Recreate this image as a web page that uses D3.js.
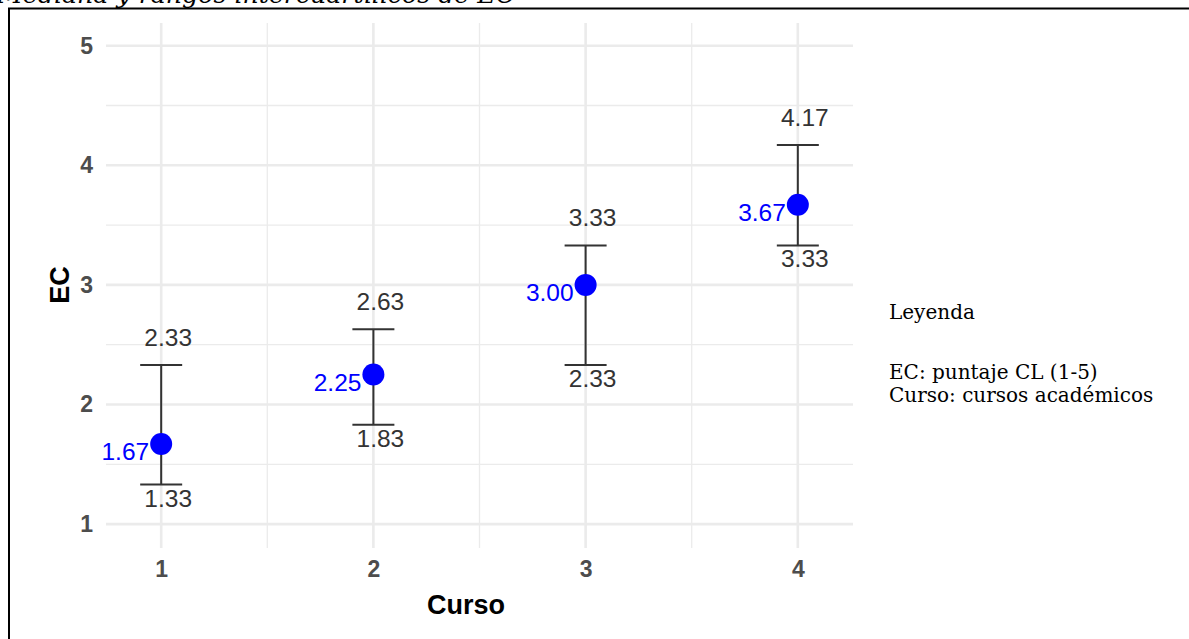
<!DOCTYPE html>
<html>
<head>
<meta charset="utf-8">
<script src="https://cdn.jsdelivr.net/npm/d3@7"></script>
<style>
  body { margin: 0; background: #fff; }
  svg { display: block; }
</style>
</head>
<body>
<svg width="1189" height="639"></svg>
<script>
var cursos = [1, 2, 3, 4];
var medianas = [1.67, 2.25, 3.00, 3.67];
var q1 = [1.33, 1.83, 2.33, 3.33];
var q3 = [2.33, 2.63, 3.33, 4.17];
var yTicks = [1, 2, 3, 4, 5];
var leyenda = ['Leyenda', '', 'EC: puntaje CL (1-5)', 'Curso: cursos académicos'];

var svg = d3.select('svg');

// recuadro del documento y titulo recortado
svg.append('text')
	.attr('x', -3)
	.attr('y', 3)
	.attr('font-family', 'DejaVu Serif')
	.attr('font-style', 'italic')
	.attr('font-size', 24)
	.attr('textLength', 518)
	.attr('lengthAdjust', 'spacingAndGlyphs')
	.attr('fill', '#000')
	.text('Mediana y rangos intercuartílicos de EC');

svg.append('path')
	.attr('d', 'M9,660 L9,8.5 L1200,8.5')
	.attr('fill', 'none')
	.attr('stroke', '#000')
	.attr('stroke-width', 2);

var x = d3.scaleLinear()
	.domain([0.74, 4.26])
	.range([106, 853]);

var y = d3.scaleLinear()
	.domain([0.8, 5.19])
	.range([548, 23]);

// recorte del panel (la etiqueta 1.67 queda cortada)
svg.append('clipPath')
	.attr('id', 'panel')
	.append('rect')
	.attr('x', 103)
	.attr('y', 0)
	.attr('width', 800)
	.attr('height', 600);

var grid = svg.append('g');

// rejilla menor
grid.selectAll('.minor-y')
	.data(d3.range(1.5, 5, 1))
	.enter().append('line')
	.attr('x1', x.range()[0]).attr('x2', x.range()[1])
	.attr('y1', function(d) { return y(d); })
	.attr('y2', function(d) { return y(d); })
	.attr('stroke', '#ebebeb')
	.attr('stroke-width', 1.3);

grid.selectAll('.minor-x')
	.data([1.5, 2.5, 3.5])
	.enter().append('line')
	.attr('y1', y.range()[0]).attr('y2', y.range()[1])
	.attr('x1', function(d) { return x(d); })
	.attr('x2', function(d) { return x(d); })
	.attr('stroke', '#ebebeb')
	.attr('stroke-width', 1.3);

// rejilla mayor
grid.selectAll('.major-y')
	.data(yTicks)
	.enter().append('line')
	.attr('x1', x.range()[0]).attr('x2', x.range()[1])
	.attr('y1', function(d) { return y(d); })
	.attr('y2', function(d) { return y(d); })
	.attr('stroke', '#ebebeb')
	.attr('stroke-width', 2.6);

grid.selectAll('.major-x')
	.data(cursos)
	.enter().append('line')
	.attr('y1', y.range()[0]).attr('y2', y.range()[1])
	.attr('x1', function(d) { return x(d); })
	.attr('x2', function(d) { return x(d); })
	.attr('stroke', '#ebebeb')
	.attr('stroke-width', 2.6);

// ejes
var yAxis = d3.axisLeft(y)
	.tickValues(yTicks)
	.tickFormat(d3.format('d'))
	.tickSize(0)
	.tickPadding(13);

var gy = svg.append('g')
	.attr('transform', 'translate(' + x.range()[0] + ',0)')
	.call(yAxis);

var xAxis = d3.axisBottom(x)
	.tickValues(cursos)
	.tickFormat(d3.format('d'))
	.tickSize(0)
	.tickPadding(13);

var gx = svg.append('g')
	.attr('transform', 'translate(0,' + y.range()[0] + ')')
	.call(xAxis);

[gx, gy].forEach(function(g) {
	g.select('.domain').remove();
	g.selectAll('text')
		.attr('font-family', 'Liberation Sans, Arial, sans-serif')
		.attr('font-weight', 'bold')
		.attr('font-size', 23)
		.attr('fill', '#4d4d4d');
});

svg.append('text')
	.attr('x', 466)
	.attr('y', 614)
	.attr('text-anchor', 'middle')
	.attr('font-family', 'Liberation Sans, Arial, sans-serif')
	.attr('font-weight', 'bold')
	.attr('font-size', 27)
	.text('Curso');

svg.append('text')
	.attr('transform', 'translate(69,' + y(3) + ') rotate(-90)')
	.attr('text-anchor', 'middle')
	.attr('font-family', 'Liberation Sans, Arial, sans-serif')
	.attr('font-weight', 'bold')
	.attr('font-size', 27)
	.text('EC');

// barras de error
var datos = cursos.map(function(c, i) {
	return { curso: c, med: medianas[i], lo: q1[i], hi: q3[i] };
});

var marcas = svg.append('g');

marcas.selectAll('.bar')
	.data(datos)
	.enter().append('line')
	.attr('x1', function(d) { return x(d.curso); })
	.attr('x2', function(d) { return x(d.curso); })
	.attr('y1', function(d) { return y(d.lo); })
	.attr('y2', function(d) { return y(d.hi); })
	.attr('stroke', '#333')
	.attr('stroke-width', 2);

['lo', 'hi'].forEach(function(k) {
	marcas.selectAll('.cap-' + k)
		.data(datos)
		.enter().append('line')
		.attr('x1', function(d) { return x(d.curso) - 21; })
		.attr('x2', function(d) { return x(d.curso) + 21; })
		.attr('y1', function(d) { return y(d[k]); })
		.attr('y2', function(d) { return y(d[k]); })
		.attr('stroke', '#333')
		.attr('stroke-width', 2);
});

marcas.selectAll('circle')
	.data(datos)
	.enter().append('circle')
	.attr('cx', function(d) { return x(d.curso); })
	.attr('cy', function(d) { return y(d.med); })
	.attr('r', 11)
	.attr('fill', '#0000ff');

var fmt = d3.format('.2f');

marcas.selectAll('.lab-hi')
	.data(datos)
	.enter().append('text')
	.attr('x', function(d) { return x(d.curso) + 7; })
	.attr('y', function(d) { return y(d.hi) - 19; })
	.attr('text-anchor', 'middle')
	.attr('font-family', 'Liberation Sans, Arial, sans-serif')
	.attr('font-size', 24.5)
	.attr('fill', '#333')
	.text(function(d) { return fmt(d.hi); });

marcas.selectAll('.lab-lo')
	.data(datos)
	.enter().append('text')
	.attr('x', function(d) { return x(d.curso) + 7; })
	.attr('y', function(d) { return y(d.lo) + 22; })
	.attr('text-anchor', 'middle')
	.attr('font-family', 'Liberation Sans, Arial, sans-serif')
	.attr('font-size', 24.5)
	.attr('fill', '#333')
	.text(function(d) { return fmt(d.lo); });

marcas.append('g')
	.attr('clip-path', 'url(#panel)')
	.selectAll('text')
	.data(datos)
	.enter().append('text')
	.attr('x', function(d) { return x(d.curso) - 12; })
	.attr('y', function(d) { return y(d.med) + 16; })
	.attr('text-anchor', 'end')
	.attr('font-family', 'Liberation Sans, Arial, sans-serif')
	.attr('font-size', 24.5)
	.attr('fill', '#0000ff')
	.text(function(d) { return fmt(d.med); });

// leyenda
svg.append('g').selectAll('text')
	.data(leyenda)
	.enter().append('text')
	.attr('x', 889)
	.attr('y', function(d, i) { return [319, 349, 379, 402][i]; })
	.attr('font-family', 'DejaVu Serif')
	.attr('font-size', 20)
	.attr('fill', '#000')
	.text(function(d) { return d; });
</script>
</body>
</html>
